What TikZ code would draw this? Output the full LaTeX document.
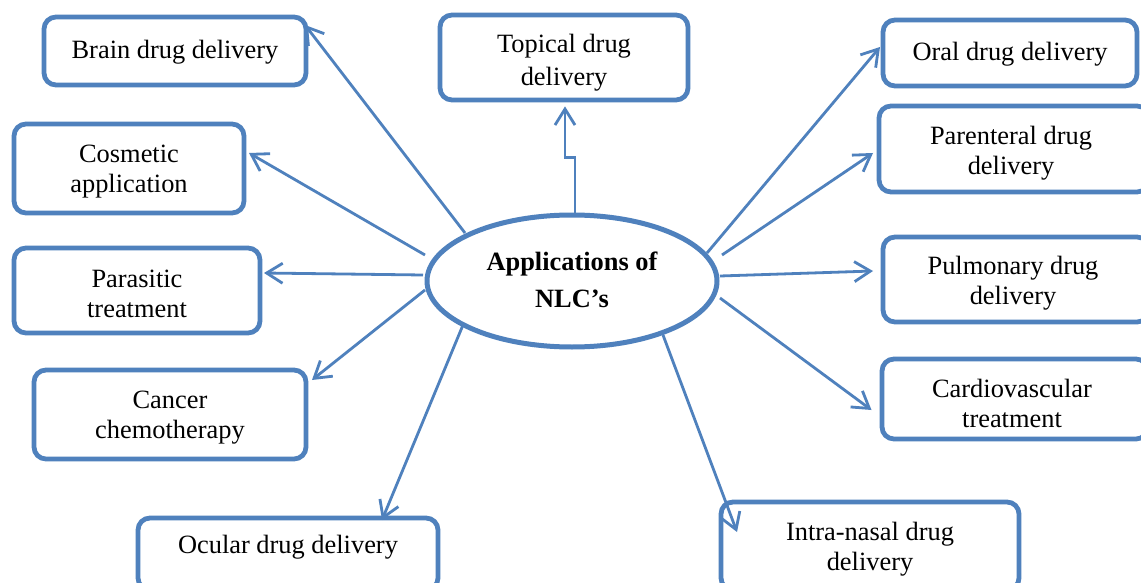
\documentclass[tikz,border=0pt]{standalone}
\usepackage{fontspec}
\setmainfont{Liberation Serif}
\usetikzlibrary{arrows.meta,shapes.geometric}
\definecolor{ublue}{HTML}{4F81BD}
\begin{document}
\begin{tikzpicture}[x=0.5pt,y=-0.5pt,
  box/.style={draw=ublue, line width=2.4pt, rounded corners=6pt, fill=white, inner sep=0pt},
  txt/.style={align=center, font=\fontsize{13.2}{15}\selectfont, inner sep=0pt},
  conn/.style={draw=ublue, line width=1.4pt, -{Straight Barb[length=8pt,width=10pt,line width=1.4pt]}},
  hub/.style={ellipse, draw=ublue, line width=2.5pt, fill=white, inner sep=0pt, align=center, font=\bfseries\fontsize{13.2}{18.5}\selectfont}
]
\useasboundingbox[fill=white] (0,0) rectangle (1141,583);
\node[box, minimum width=131pt, minimum height=34pt] (brain) at (175,51) {};
\node[box, minimum width=124pt, minimum height=42.5pt] (topical) at (564,57.5) {};
\node[box, minimum width=115pt, minimum height=44.5pt] (cosmetic) at (129,168.5) {};
\node[box, minimum width=123pt, minimum height=42.5pt] (parasitic) at (137,290.5) {};
\node[box, minimum width=136pt, minimum height=44.5pt] (cancer) at (170,414.5) {};
\node[box, minimum width=150pt, minimum height=36pt] (ocular) at (288,554) {};
\node[box, minimum width=127pt, minimum height=33pt] (oral) at (1010,53) {};
\node[box, minimum width=135pt, minimum height=43pt] (parenteral) at (1014,149) {};
\node[box, minimum width=133pt, minimum height=42.5pt] (pulmonary) at (1016,279.5) {};
\node[box, minimum width=133pt, minimum height=40pt] (cardio) at (1015,399) {};
\node[box, minimum width=149pt, minimum height=44pt] (nasal) at (870,546) {};
\node[hub, minimum width=145pt, minimum height=66pt] (ell) at (572,281) {\raisebox{1.5pt}{Applications of}\\\raisebox{1.5pt}{NLC’s}};

\node[txt] (brainT) at ([yshift=-0.5pt]brain.center) {Brain drug delivery};
\node[txt, font=\fontsize{13.2}{16.5}\selectfont] (topicalT) at ([yshift=-2.5pt]topical.center) {Topical drug\\delivery};
\node[txt] (cosmeticT) at ([yshift=-1.5pt]cosmetic.center) {Cosmetic\\application};
\node[txt] (parasiticT) at ([yshift=-1.5pt]parasitic.center) {Parasitic\\treatment};
\node[txt] (cancerT) at ([yshift=-1.8pt]cancer.center) {Cancer\\chemotherapy};
\node[txt] (ocularT) at (288,547) {Ocular drug delivery};
\node[txt] (oralT) at ([yshift=-0.5pt]oral.center) {Oral drug delivery};
\node[txt] (parenteralT) at ([shift={(-3,-2pt)}]parenteral.center) {Parenteral drug\\delivery};
\node[txt] (pulmonaryT) at ([shift={(-3,-2pt)}]pulmonary.center) {Pulmonary drug\\delivery};
\node[txt] (cardioT) at ([shift={(-3,-2pt)}]cardio.center) {Cardiovascular\\treatment};
\node[txt] (nasalT) at ([yshift=-1.5pt]nasal.center) {Intra-nasal drug\\delivery};

\draw[conn] ([shift={(-107,-48)}]ell.center) -- ([shift={(130,-26)}]brain.center);
\draw[conn] ([xshift=1.5pt]ell.north) -- ++(0,-55) -| ([xshift=0.5pt,yshift=-2pt]topical.south);
\draw[conn] ([shift={(-147,-26)}]ell.center) -- ([shift={(120,-15.5)}]cosmetic.center);
\draw[conn] ([shift={(-149,-6)}]ell.center) -- ([shift={(127,-17.5)}]parasitic.center);
\draw[conn] ([shift={(-147,9)}]ell.center) -- ([shift={(142,-34.5)}]cancer.center);
\draw[conn] ([shift={(-109,44)}]ell.center) -- ([shift={(94,-34)}]ocular.center);
\draw[conn] ([shift={(91,54)}]ell.center) -- ([shift={(-133,-14)}]nasal.center);
\draw[conn] ([shift={(148,17)}]ell.center) -- ([shift={(-143.5,11)}]cardio.center);
\draw[conn] ([shift={(148,-5)}]ell.center) -- ([shift={(-143,-8.5)}]pulmonary.center);
\draw[conn] ([shift={(150,-26)}]ell.center) -- ([shift={(-141,4)}]parenteral.center);
\draw[conn] ([shift={(135,-28)}]ell.center) -- ([shift={(-130,-6)}]oral.center);
\end{tikzpicture}
\end{document}
